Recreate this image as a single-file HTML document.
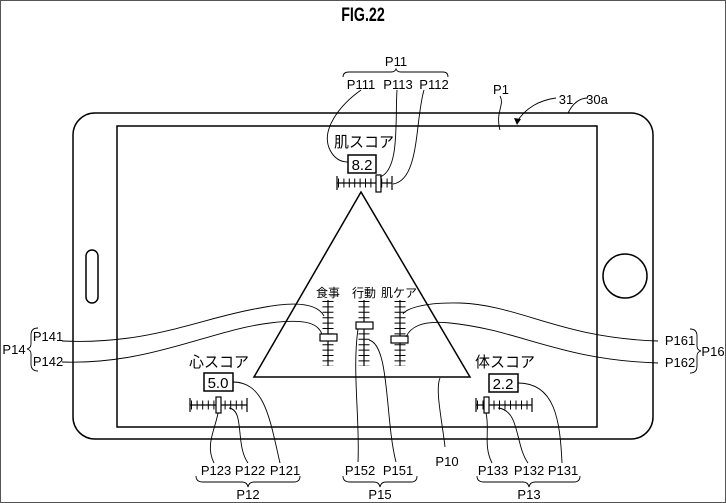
<!DOCTYPE html>
<html><head><meta charset="utf-8"><style>
html,body{margin:0;padding:0;background:#fff}
svg{display:block}
text{font-family:"Liberation Sans","Noto Sans CJK JP",sans-serif;fill:#000}
</style></head><body>
<svg width="726" height="503" viewBox="0 0 726 503" xmlns="http://www.w3.org/2000/svg">
<rect x="0.5" y="0.5" width="725" height="502" fill="#fff" stroke="#555" stroke-width="1"/>
<text x="363" y="21" font-size="19" text-anchor="middle" font-weight="bold" transform="translate(363 0) scale(0.75 1) translate(-363 0)">FIG.22</text>
<g fill="none" stroke="#000" stroke-width="1.5">
<rect x="73" y="113" width="580" height="326" rx="22"/>
<rect x="117" y="126" width="480" height="301"/>
<rect x="86" y="250" width="12" height="53" rx="6"/>
<circle cx="625" cy="276" r="22"/>
<polygon points="361,192 254,377 470,377"/>
<rect x="348" y="155" width="28" height="18"/>
<rect x="204" y="373" width="29" height="18"/>
<rect x="489" y="374" width="29" height="18"/>
</g>
<g stroke="#000" fill="none">
<line x1="337" y1="183" x2="392" y2="183" stroke-width="1.2"/>
<line x1="338" y1="183" x2="392" y2="183" stroke-width="9" stroke-dasharray="1 4.4"/>
<line x1="337" y1="176" x2="337" y2="190" stroke-width="1.2"/>
<line x1="392" y1="176" x2="392" y2="190" stroke-width="1.2"/>
<rect x="376" y="175" width="5" height="17" fill="#fff" stroke-width="1.2"/>

<line x1="190" y1="405" x2="247" y2="405" stroke-width="1.2"/>
<line x1="191" y1="405" x2="247" y2="405" stroke-width="9" stroke-dasharray="1 4.6"/>
<line x1="190" y1="398" x2="190" y2="412" stroke-width="1.2"/>
<line x1="247" y1="398" x2="247" y2="412" stroke-width="1.2"/>
<rect x="216" y="397" width="5" height="16" fill="#fff" stroke-width="1.2"/>

<line x1="476" y1="405" x2="532" y2="405" stroke-width="1.2"/>
<line x1="477" y1="405" x2="532" y2="405" stroke-width="9" stroke-dasharray="1 4.5"/>
<line x1="476" y1="398" x2="476" y2="412" stroke-width="1.2"/>
<line x1="532" y1="398" x2="532" y2="412" stroke-width="1.2"/>
<rect x="484" y="397" width="5" height="16" fill="#fff" stroke-width="1.2"/>

<line x1="328" y1="300" x2="328" y2="366" stroke-width="1.2"/>
<line x1="328" y1="301" x2="328" y2="366" stroke-width="11" stroke-dasharray="1 4.4"/>
<rect x="320" y="334" width="17" height="7" fill="#fff" stroke-width="1.2"/>
<line x1="364" y1="300" x2="364" y2="366" stroke-width="1.2"/>
<line x1="364" y1="301" x2="364" y2="366" stroke-width="11" stroke-dasharray="1 4.4"/>
<rect x="356" y="322" width="17" height="7" fill="#fff" stroke-width="1.2"/>
<line x1="400" y1="300" x2="400" y2="366" stroke-width="1.2"/>
<line x1="400" y1="301" x2="400" y2="366" stroke-width="11" stroke-dasharray="1 4.4"/>
<rect x="391" y="336" width="17" height="7" fill="#fff" stroke-width="1.2"/>
</g>
<g fill="none" stroke="#000" stroke-width="0.9">
<path d="M361,90 C340,105 320,130 330,150 C335,160 342,162 348,162"/>
<path d="M397,90 C395,120 400,170 380,177"/>
<path d="M424,90 C415,120 420,180 393,184"/>
<path d="M62,341 C150,345 200,318 260,308 C300,300 318,305 324,316"/>
<path d="M62,362 C150,365 210,330 270,323 C310,318 318,325 322,334"/>
<path d="M658,341 C560,338 520,305 460,303 C420,302 405,310 403,314"/>
<path d="M658,363 C560,360 520,330 450,323 C420,320 410,328 406,337"/>
<path d="M218,413 C215,430 205,445 214,463"/>
<path d="M229,408 C245,410 235,445 248,463"/>
<path d="M233,382 C265,382 270,420 280,463"/>
<path d="M486,413 C490,430 483,445 492,463"/>
<path d="M498,408 C520,410 515,445 528,463"/>
<path d="M518,383 C555,383 560,420 562,463"/>
<path d="M358,329 C352,370 360,420 358,462"/>
<path d="M369,340 C390,345 385,420 396,462"/>
<path d="M440,378 C435,390 442,420 445,447"/>
<path d="M500,96 C505,105 495,112 500,130"/>
<path d="M556,98 C540,100 525,108 517,122"/>
<path d="M588,98 C578,98 572,105 568,113"/>
</g>
<path d="M517,125 L514,118 L521,119 Z" fill="#000"/>
<g fill="none" stroke="#000" stroke-width="0.9">
<path d="M343,77 Q343,72 349,72 L391,72 Q395,72 396,69 Q397,72 401,72 L443,72 Q448,72 448,77"/>
<path d="M196,476 Q196,482 203,482 L242,482 Q247,482 248,487 Q249,482 254,482 L294,482 Q300,482 300,476"/>
<path d="M343,476 Q343,482 350,482 L374,482 Q379,482 380,487 Q381,482 386,482 L411,482 Q417,482 417,476"/>
<path d="M477,476 Q477,482 484,482 L523,482 Q528,482 529,487 Q530,482 535,482 L574,482 Q580,482 580,476"/>
<path d="M38,328 Q31,328 31,335 L31,344 Q31,348 27,349 Q31,350 31,354 L31,364 Q31,371 38,371"/>
<path d="M690,329 Q697,329 697,336 L697,346 Q697,350 701,351 Q697,352 697,356 L697,366 Q697,373 690,373"/>
</g>
<g font-size="13" text-anchor="middle">
<text x="396" y="66">P11</text>
<text x="361" y="89">P111</text>
<text x="398" y="89">P113</text>
<text x="434" y="89">P112</text>
<text x="501" y="94">P1</text>
<text x="566" y="104">31</text>
<text x="597" y="104">30a</text>
<text x="216" y="475">P123</text>
<text x="250" y="475">P122</text>
<text x="285" y="475">P121</text>
<text x="248" y="499">P12</text>
<text x="360" y="475">P152</text>
<text x="398" y="475">P151</text>
<text x="380" y="499">P15</text>
<text x="447" y="466">P10</text>
<text x="493" y="475">P133</text>
<text x="529" y="475">P132</text>
<text x="563" y="475">P131</text>
<text x="529" y="499">P13</text>
<text x="48" y="341">P141</text>
<text x="48" y="366">P142</text>
<text x="14" y="354">P14</text>
<text x="680" y="345">P161</text>
<text x="680" y="367">P162</text>
<text x="713" y="356">P16</text>
<text x="362" y="170" font-size="15">8.2</text>
<text x="218" y="388" font-size="15">5.0</text>
<text x="503" y="389" font-size="15">2.2</text>
</g>
<g font-size="15" text-anchor="middle">
<text x="364" y="147">肌スコア</text>
<text x="219" y="367">心スコア</text>
<text x="505" y="367">体スコア</text>
</g>
<g font-size="12" text-anchor="middle">
<text x="328" y="297">食事</text>
<text x="364" y="297">行動</text>
<text x="399" y="297">肌ケア</text>
</g>
</svg>
</body></html>
